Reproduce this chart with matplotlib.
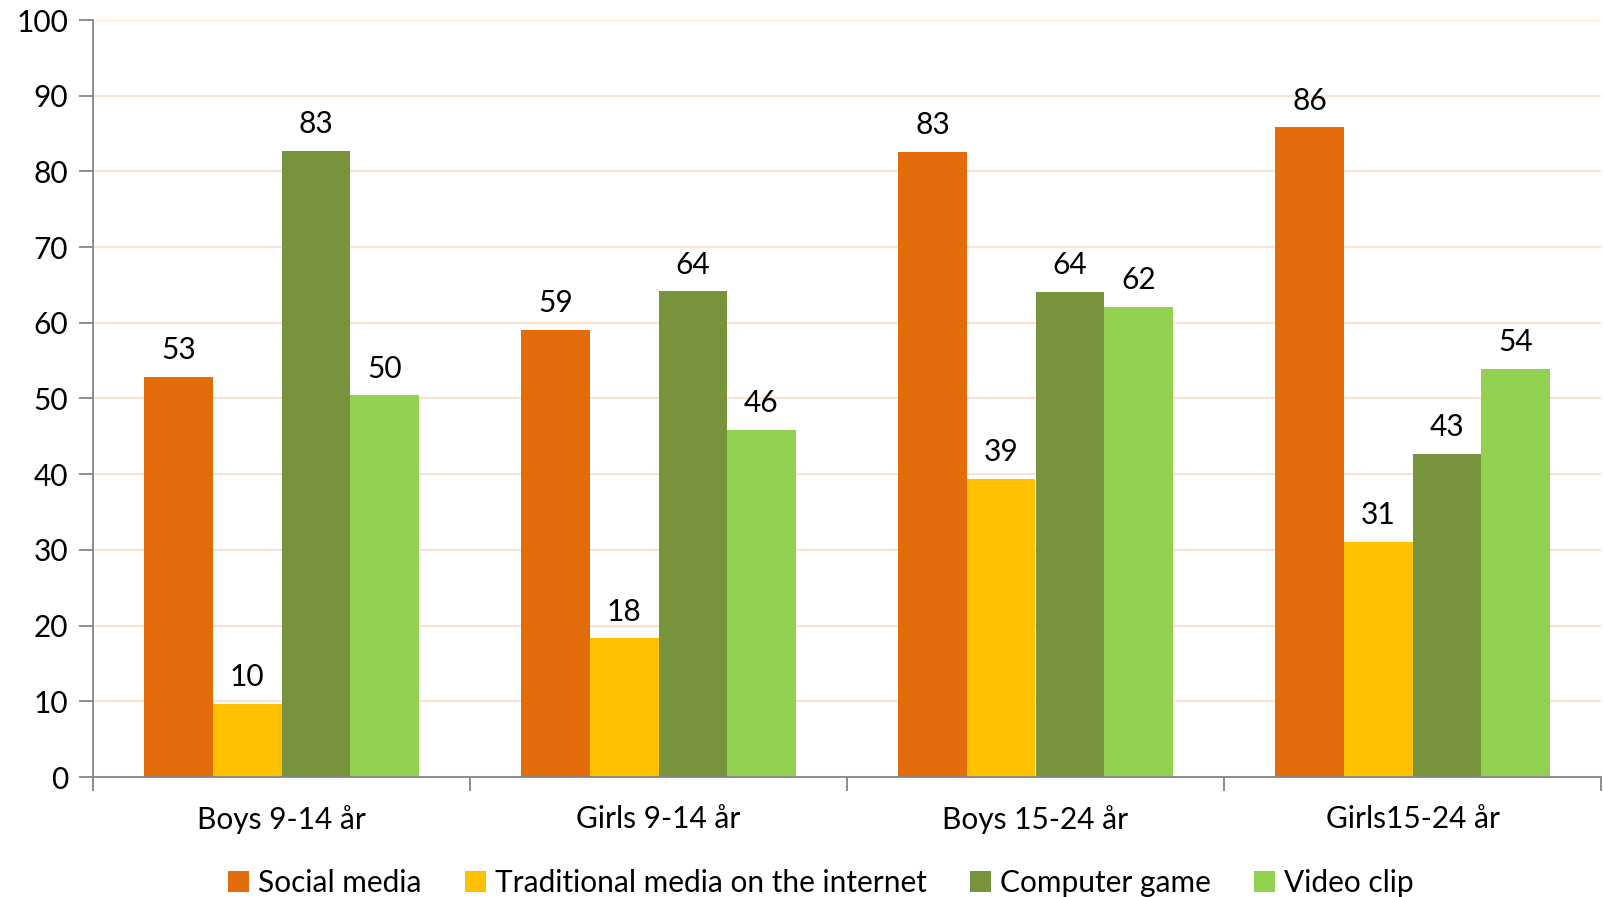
import numpy as np
import matplotlib.pyplot as plt

plt.rcParams['font.family'] = ['Lato', 'DejaVu Sans']

groups = ['Boys 9-14 år', 'Girls 9-14 år', 'Boys 15-24 år', 'Girls15-24 år']
social_media = [52.9, 59.1, 82.6, 85.8]
traditional = [9.7, 18.3, 39.4, 31.1]
computer_game = [82.7, 64.2, 64.1, 42.7]
video_clip = [50.4, 45.9, 62.1, 53.9]

series = [
    ('Social media', social_media, '#E36C0A'),
    ('Traditional media on the internet', traditional, '#FFC000'),
    ('Computer game', computer_game, '#77933C'),
    ('Video clip', video_clip, '#92D050'),
]

FS = 21.5

fig = plt.figure(figsize=(16.03, 8.97), dpi=100)
ax = fig.add_axes([93 / 1603, 1 - 777 / 897, 1508 / 1603, 757 / 897])

x = np.arange(len(groups)) + 0.5
w = 0.182
for k, (name, vals, col) in enumerate(series):
    pos = x + (k - 1.5) * w
    bars = ax.bar(pos, vals, width=w, color=col, label=name, zorder=2)
    for b, v in zip(bars, vals):
        ax.annotate('%.0f' % v, (b.get_x() + b.get_width() / 2, v),
                    xytext=(0, 9), textcoords='offset points',
                    ha='center', va='bottom', fontsize=FS)

ax.set_ylim(0, 100)
ax.set_xlim(0, 4)
ax.set_yticks(range(0, 101, 10))
ax.yaxis.grid(True, color='#FBE3D3', linewidth=1.5, zorder=0)
ax.set_axisbelow(True)

ax.set_xticks(x)
ax.set_xticklabels(groups)
ax.set_xticks(range(5), minor=True)
ax.tick_params(axis='x', which='major', length=0, pad=20, labelsize=FS)
ax.tick_params(axis='x', which='minor', length=10, width=1.3, color='#868686')
ax.tick_params(axis='y', length=10, width=1.3, color='#868686', labelsize=FS, pad=8)

for s in ['top', 'right']:
    ax.spines[s].set_visible(False)
for s in ['left', 'bottom']:
    ax.spines[s].set_color('#868686')
    ax.spines[s].set_linewidth(1.3)

fig.legend(loc='center', bbox_to_anchor=(0.512, 1 - 883 / 897), ncol=4,
           frameon=False, fontsize=FS, handlelength=0.7, handleheight=0.7,
           handletextpad=0.3, columnspacing=1.45)

fig.savefig('out.png', dpi=100)
